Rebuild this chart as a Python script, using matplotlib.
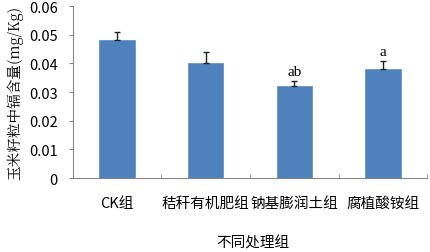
import numpy as np
import matplotlib
matplotlib.use('Agg')
import matplotlib.pyplot as plt

plt.rcParams['font.family'] = ['Noto Sans CJK SC', 'DejaVu Sans']

groups = ['CK组', '秸秆有机肥组', '钠基膨润土组', '腐植酸铵组']
means = [0.048, 0.040, 0.032, 0.038]
errs = [0.003, 0.004, 0.002, 0.003]
letters = ['', '', 'ab', 'a']

fig = plt.figure(figsize=(4.31, 2.53), dpi=100)
ax = fig.add_axes([0.169, 0.292, 0.822, 0.68])

x = np.arange(len(groups))
ax.bar(x, means, 0.4, color='#4F81BD', edgecolor='#5B8BC6', lw=0.5, zorder=2)
ax.errorbar(x, means, yerr=[np.zeros(len(errs)), errs], fmt='none',
            ecolor='#222222', elinewidth=1.0, capsize=2.5, capthick=1.0, zorder=3)
for xi, m, e, t in zip(x, means, errs, letters):
    if t:
        ax.text(xi, m + e + 0.0008, t, ha='center', va='bottom',
                fontsize=11, family=['Liberation Serif', 'DejaVu Serif'])

ax.set_xlim(-0.5, len(groups) - 0.5)
ax.set_ylim(0, 0.06)
ax.set_yticks(np.arange(0, 0.061, 0.01))
ax.set_yticklabels(['0'] + [f'{v:.2f}' for v in np.arange(0.01, 0.061, 0.01)], fontsize=10.5)
ax.set_xticks(x)
ax.set_xticklabels(groups, fontsize=10.5)
ax.set_xticks(np.arange(-0.5, len(groups)), minor=True)
ax.tick_params(axis='x', which='major', length=0, pad=13)
ax.tick_params(axis='x', which='minor', direction='in', length=3, color='#868686')
ax.tick_params(axis='y', direction='out', length=3, color='#868686', pad=8)

for s in ['top', 'right']:
    ax.spines[s].set_visible(False)
for s in ['left', 'bottom']:
    ax.spines[s].set_color('#868686')
    ax.spines[s].set_linewidth(0.8)

ax.set_ylabel('玉米籽粒中镉含量(mg/Kg)', fontsize=10.5,
              family=['Noto Serif CJK SC', 'Noto Sans CJK SC', 'DejaVu Serif'], labelpad=4)
fig.text(0.587, 0.036, '不同处理组', ha='center', va='center', fontsize=10.5)

fig.savefig('out.png', dpi=100)
